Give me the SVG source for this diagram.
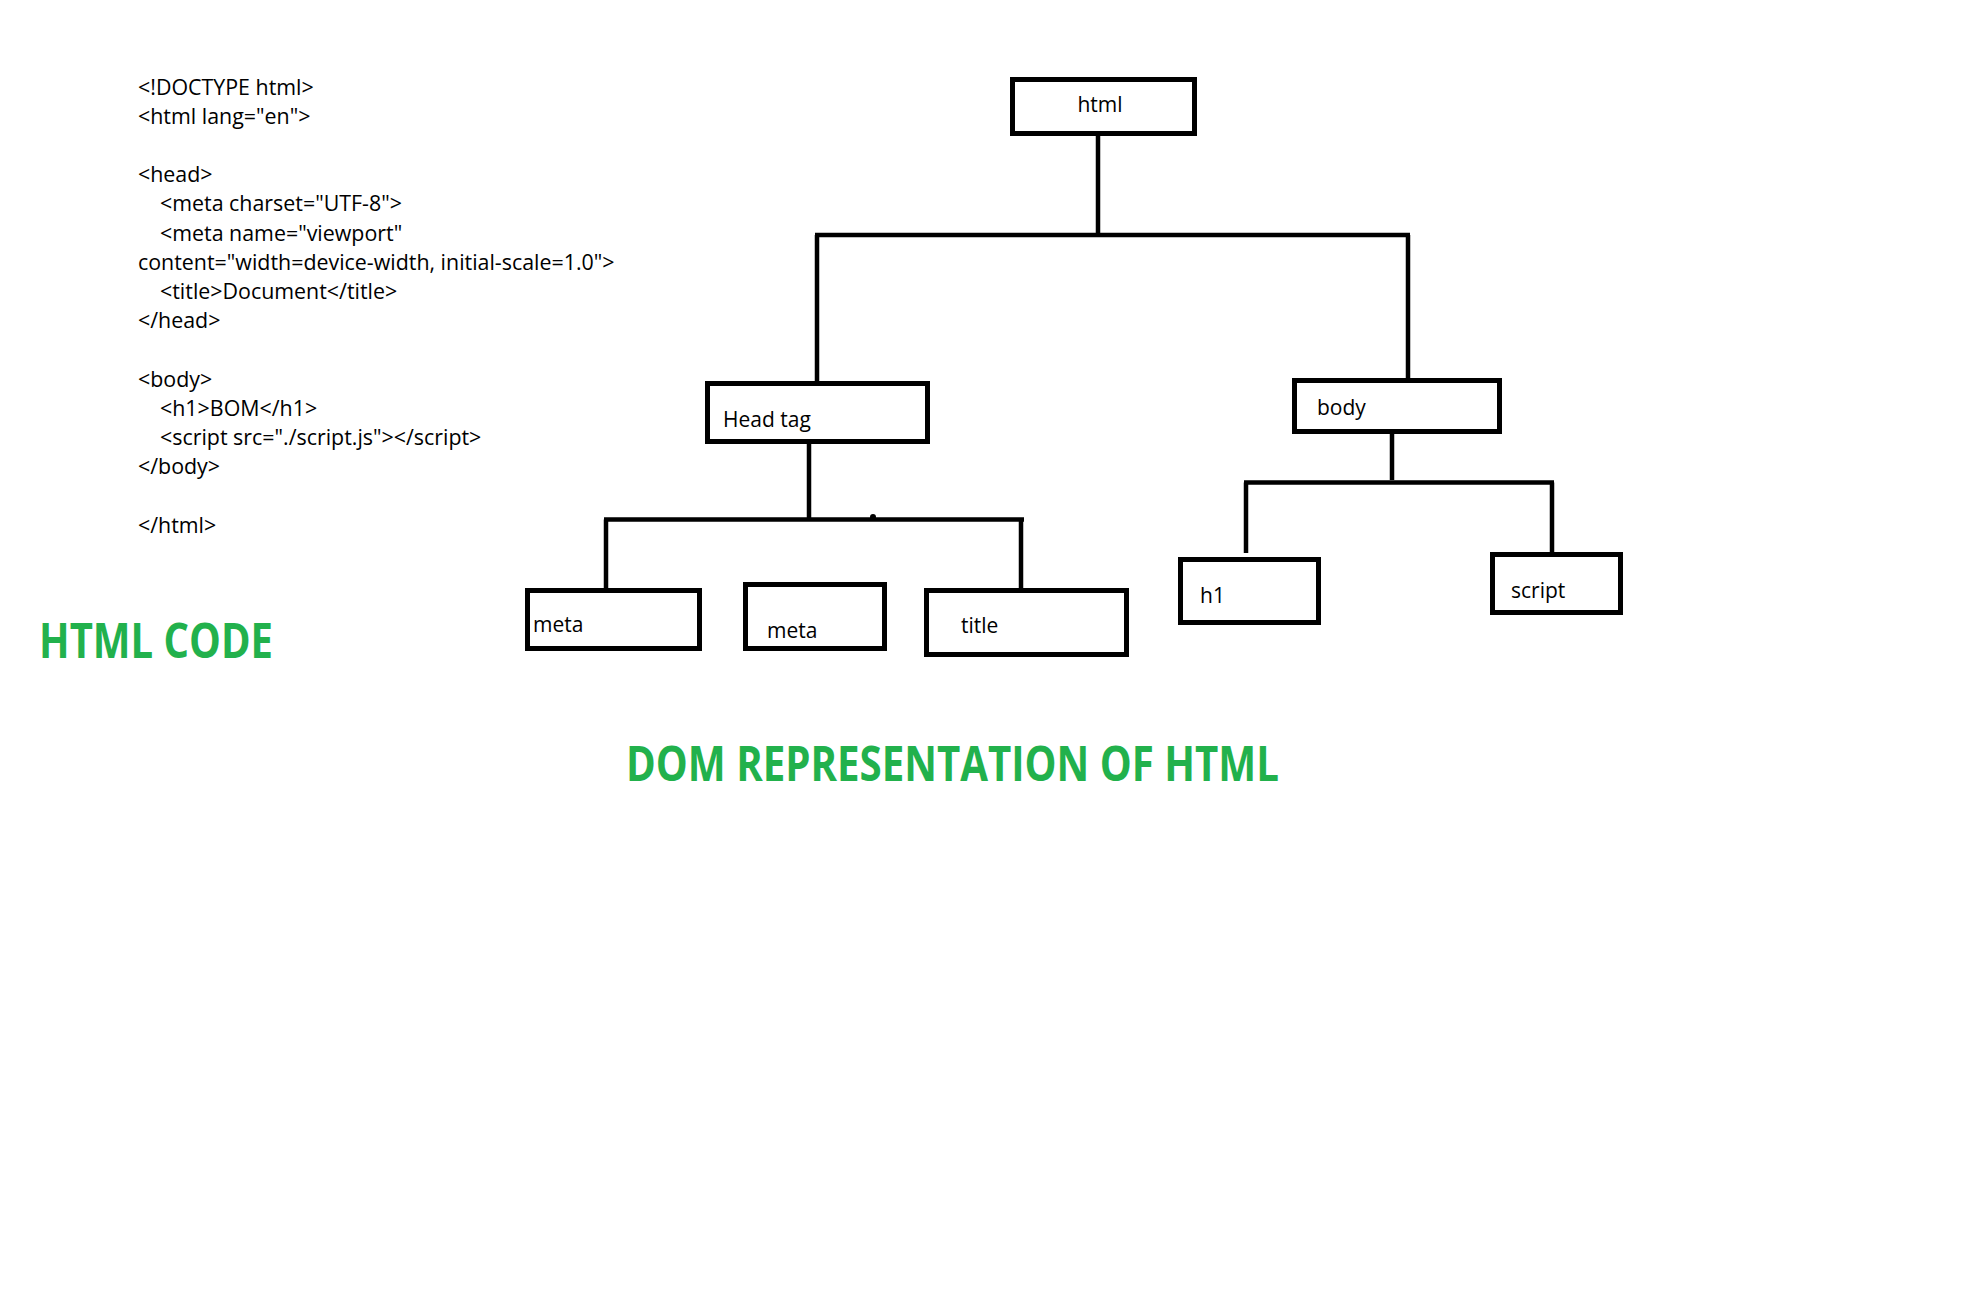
<svg xmlns="http://www.w3.org/2000/svg" width="1961" height="1310" viewBox="0 0 1961 1310">
<style>
.code{font-family:"Open Sans","Liberation Sans",sans-serif;font-size:21.4px;fill:#000}
.lbl{font-family:"Open Sans","Liberation Sans",sans-serif;font-size:21px;fill:#000}
.ttl{font-family:"Open Sans","Liberation Sans",sans-serif;font-size:48px;font-weight:bold;fill:#22B14C}
.box{fill:#fff;stroke:#000;stroke-width:5}
.ln{fill:none;stroke:#000;stroke-width:4.5}
</style>
<rect width="1961" height="1310" fill="#fff"/>
<g id="code">
<text class="code" x="138" y="94.5">&lt;!DOCTYPE html&gt;</text>
<text class="code" x="138" y="123.7">&lt;html lang="en"&gt;</text>
<text class="code" x="138" y="182.1">&lt;head&gt;</text>
<text class="code" x="160" y="211.3">&lt;meta charset="UTF-8"&gt;</text>
<text class="code" x="160" y="240.5">&lt;meta name="viewport"</text>
<text class="code" x="138" y="269.7">content="width=device-width, initial-scale=1.0"&gt;</text>
<text class="code" x="160" y="298.9">&lt;title&gt;Document&lt;/title&gt;</text>
<text class="code" x="138" y="328.1">&lt;/head&gt;</text>
<text class="code" x="138" y="386.5">&lt;body&gt;</text>
<text class="code" x="160" y="415.7">&lt;h1&gt;BOM&lt;/h1&gt;</text>
<text class="code" x="160" y="444.9">&lt;script src="./script.js"&gt;&lt;/script&gt;</text>
<text class="code" x="138" y="474.1">&lt;/body&gt;</text>
<text class="code" x="138" y="532.5">&lt;/html&gt;</text>
</g>
<text id="title-code" class="ttl" x="39" y="658" textLength="234" lengthAdjust="spacingAndGlyphs">HTML CODE</text>
<text id="title-dom" class="ttl" x="626" y="781" textLength="653" lengthAdjust="spacingAndGlyphs">DOM REPRESENTATION OF HTML</text>
<g id="connectors">
<path class="ln" d="M1098 134V235M815 235H1410M817 235V381M1408 235V380"/>
<path class="ln" d="M809 440V519.5M604 519.5H1024M606 519.5V592M1021 519.5V594"/>
<circle cx="873" cy="517" r="3" fill="#000"/>
<path class="ln" d="M1392 431V480M1244 482.5H1554M1246 482.5V553M1552 482.5V552"/>
</g>
<g id="node-html"><rect class="box" x="1012.5" y="79.5" width="182" height="54"/><text class="lbl" x="1100" y="112" text-anchor="middle">html</text></g>
<g id="node-head"><rect class="box" x="707.5" y="383.5" width="220" height="58"/><text class="lbl" x="723" y="427">Head tag</text></g>
<g id="node-body"><rect class="box" x="1294.5" y="380.5" width="205" height="51"/><text class="lbl" x="1317" y="415">body</text></g>
<g id="node-meta1"><rect class="box" x="527.5" y="590.5" width="172" height="58"/><text class="lbl" x="533" y="632">meta</text></g>
<g id="node-meta2"><rect class="box" x="745.5" y="584.5" width="139" height="64"/><text class="lbl" x="767" y="638">meta</text></g>
<g id="node-title"><rect class="box" x="926.5" y="590.5" width="200" height="64"/><text class="lbl" x="961" y="633">title</text></g>
<g id="node-h1"><rect class="box" x="1180.5" y="559.5" width="138" height="63"/><text class="lbl" x="1200" y="603">h1</text></g>
<g id="node-script"><rect class="box" x="1492.5" y="554.5" width="128" height="58"/><text class="lbl" x="1511" y="598">script</text></g>
</svg>
